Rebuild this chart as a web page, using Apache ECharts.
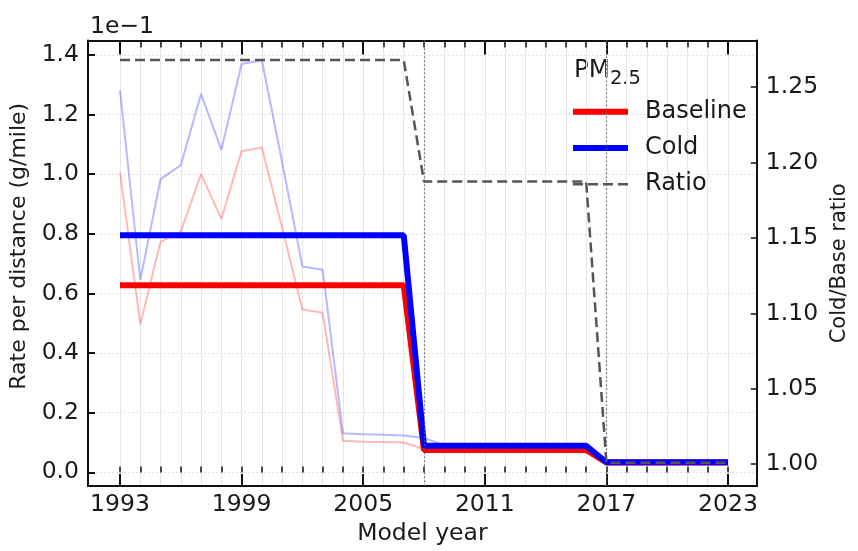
<!DOCTYPE html>
<html>
<head>
<meta charset="utf-8">
<script src="https://cdn.jsdelivr.net/npm/echarts@6/dist/echarts.min.js"></script>
<style>
html,body{margin:0;padding:0;background:#ffffff;}
#chart{width:858px;height:551px;}
</style>
</head>
<body>
<div id="chart"></div>
<script>
// ---------- data (g/mile; axis shows values x 1e-1) ----------
const years = [1993,1994,1995,1996,1997,1998,1999,2000,2001,2002,2003,2004,2005,2006,2007,
               2008,2009,2010,2011,2012,2013,2014,2015,2016,
               2017,2018,2019,2020,2021,2022,2023];
const majorYears = [1993,1999,2005,2011,2017,2023];
const leftTicks = [0,0.02,0.04,0.06,0.08,0.10,0.12,0.14];
const rightTicks = [1.00,1.05,1.10,1.15,1.20,1.25];
const regulationYears = [2008,2017];

// yearly rates (faded thin lines)
const baselineYearly = [0.1006,0.0496,0.0773,0.0808,0.1000,0.0850,0.1077,0.1089,0.0820,0.0546,0.0535,0.0106,0.0103,0.0102,0.0100,
                        0.0078,0.0076,0.0075,0.0075,0.0074,0.0074,0.0073,0.0073,0.0072,
                        0.0034,0.0033,0.0033,0.0033,0.0032,0.0032,0.0032];
const coldYearly     = [0.1280,0.0645,0.0983,0.1030,0.1269,0.1081,0.1369,0.1382,0.1040,0.0690,0.0679,0.0131,0.0128,0.0126,0.0124,
                        0.0115,0.0092,0.0090,0.0090,0.0089,0.0089,0.0088,0.0088,0.0087,
                        0.0040,0.0039,0.0037,0.0035,0.0034,0.0034,0.0034];
// period rates (thick lines)
const baselinePeriod = [0.0627,0.0627,0.0627,0.0627,0.0627,0.0627,0.0627,0.0627,0.0627,0.0627,0.0627,0.0627,0.0627,0.0627,0.0627,
                        0.0075,0.0075,0.0075,0.0075,0.0075,0.0075,0.0075,0.0075,0.0075,
                        0.0033,0.0033,0.0033,0.0033,0.0033,0.0033,0.0033];
const coldPeriod     = [0.0795,0.0795,0.0795,0.0795,0.0795,0.0795,0.0795,0.0795,0.0795,0.0795,0.0795,0.0795,0.0795,0.0795,0.0795,
                        0.0089,0.0089,0.0089,0.0089,0.0089,0.0089,0.0089,0.0089,0.0089,
                        0.0034,0.0034,0.0034,0.0034,0.0034,0.0034,0.0034];
// cold / baseline ratio
const ratio          = [1.268,1.268,1.268,1.268,1.268,1.268,1.268,1.268,1.268,1.268,1.268,1.268,1.268,1.268,1.268,
                        1.1875,1.1875,1.1875,1.1875,1.1875,1.1875,1.1875,1.1875,1.1875,
                        1.001,1.001,1.001,1.001,1.001,1.001,1.001];

// ---------- chart ----------
const FONT = 'DejaVu Sans';
const TXT = '#1a1a1a';
const pairs = arr => years.map((y, i) => [y, arr[i]]);

const chart = echarts.init(document.getElementById('chart'), null, {renderer: 'canvas'});

const xBase = {
  type: 'value', min: 1991.42, max: 2024.42,
  axisLine: {show: false}, axisLabel: {show: false},
  axisTick: {show: false}, splitLine: {show: false}
};

const option = {
  backgroundColor: '#ffffff',
  animation: false,
  grid: {left: 88, right: 92, top: 40.5, bottom: 62, containLabel: false},
  xAxis: [
    Object.assign({}, xBase, {
      position: 'bottom',
      name: 'Model year', nameLocation: 'middle', nameGap: 35,
      nameTextStyle: {fontFamily: FONT, fontSize: 23.5, color: TXT},
      axisLine: {show: true, onZero: false, lineStyle: {color: '#111', width: 2}},
      axisTick: {show: true, inside: true, length: 12, customValues: majorYears, lineStyle: {color: '#111', width: 2}},
      axisLabel: {show: true, customValues: majorYears, margin: 7, fontFamily: FONT, fontSize: 23.5, color: TXT,
                  formatter: v => String(v)}
    }),
    Object.assign({}, xBase, {
      position: 'bottom',
      axisTick: {show: true, inside: true, length: 6, customValues: years, lineStyle: {color: '#111', width: 1.5}},
      splitLine: {show: true, lineStyle: {color: '#e6e6e6', width: 1}}
    }),
    Object.assign({}, xBase, {
      position: 'top',
      axisLine: {show: true, onZero: false, lineStyle: {color: '#111', width: 2}},
      axisTick: {show: true, inside: true, length: 14, customValues: majorYears, lineStyle: {color: '#111', width: 2}}
    }),
    Object.assign({}, xBase, {
      position: 'top',
      axisTick: {show: true, inside: true, length: 7, customValues: years, lineStyle: {color: '#111', width: 1.5}}
    })
  ],
  yAxis: [
    {
      type: 'value', position: 'left', min: -0.0046, max: 0.1448,
      name: 'Rate per distance (g/mile)', nameLocation: 'middle', nameGap: 52,
      nameTextStyle: {fontFamily: FONT, fontSize: 22, color: TXT, padding: [0, 0, 0, 34]},
      axisLine: {show: true, onZero: false, lineStyle: {color: '#111', width: 2}},
      axisTick: {show: true, inside: true, length: 7, customValues: leftTicks, lineStyle: {color: '#111', width: 2}},
      axisLabel: {show: true, customValues: leftTicks, margin: 9, fontFamily: FONT, fontSize: 23.5, color: TXT,
                  formatter: v => (v * 10).toFixed(1)},
      splitLine: {show: true, lineStyle: {color: '#e2e2e2', width: 1, type: [2, 2]}}
    },
    {
      type: 'value', position: 'right', min: 0.9855, max: 1.281,
      name: 'Cold/Base ratio', nameLocation: 'middle', nameGap: 66, nameRotate: 90,
      nameTextStyle: {fontFamily: FONT, fontSize: 21, color: TXT},
      axisLine: {show: true, onZero: false, lineStyle: {color: '#111', width: 2}},
      axisTick: {show: true, inside: true, length: 6, customValues: rightTicks, lineStyle: {color: '#111', width: 1.5}},
      axisLabel: {show: true, customValues: rightTicks, margin: 9, fontFamily: FONT, fontSize: 23.5, color: TXT,
                  formatter: v => v.toFixed(2)},
      splitLine: {show: false}
    }
  ],
  legend: {
    orient: 'vertical', left: 570, top: 99.8, padding: 0,
    itemWidth: 55, itemHeight: 1, itemGap: 12.2,
    selectedMode: false,
    textStyle: {fontFamily: FONT, fontSize: 24, color: TXT, padding: [0, 0, 0, 12]},
    data: [
      {name: 'Baseline', lineStyle: {width: 6}},
      {name: 'Cold', lineStyle: {width: 6}},
      {name: 'Ratio', lineStyle: {width: 2.5}}
    ]
  },
  graphic: [
    {type: 'text', left: 90, top: 15,
     style: {text: '1e\u22121', font: '23.5px "DejaVu Sans"', fill: TXT}},
    {type: 'text', left: 574, top: 58.6,
     style: {text: '{a|PM}{b|2.5}', fill: TXT,
       rich: {
         a: {fontFamily: FONT, fontSize: 24.5, lineHeight: 30, verticalAlign: 'top', color: TXT},
         b: {fontFamily: FONT, fontSize: 19.5, lineHeight: 18, verticalAlign: 'bottom', color: TXT}
       }}}
  ],
  series: [
    {name: 'Baseline (yearly)', type: 'line', xAxisIndex: 0, yAxisIndex: 0, data: pairs(baselineYearly),
     showSymbol: false, symbol: 'none', z: 2, silent: true,
     lineStyle: {color: 'rgba(255,0,0,0.28)', width: 2}},
    {name: 'Cold (yearly)', type: 'line', xAxisIndex: 0, yAxisIndex: 0, data: pairs(coldYearly),
     showSymbol: false, symbol: 'none', z: 2, silent: true,
     lineStyle: {color: 'rgba(0,0,255,0.28)', width: 2}},
    {name: 'Baseline', type: 'line', xAxisIndex: 0, yAxisIndex: 0, data: pairs(baselinePeriod),
     showSymbol: false, symbol: 'none', z: 3, color: '#ff0000',
     lineStyle: {color: '#ff0000', width: 6}},
    {name: 'Cold', type: 'line', xAxisIndex: 0, yAxisIndex: 0, data: pairs(coldPeriod),
     showSymbol: false, symbol: 'none', z: 4, color: '#0000ff',
     lineStyle: {color: '#0000ff', width: 6}},
    {name: 'Ratio', type: 'line', xAxisIndex: 0, yAxisIndex: 1, data: pairs(ratio),
     showSymbol: false, symbol: 'none', z: 5, color: '#555555',
     lineStyle: {color: '#555555', width: 2.5, type: [10, 5]},
     markLine: {
       silent: true, symbol: 'none', label: {show: false},
       lineStyle: {color: '#666666', width: 1.2, type: [1.5, 2.5]},
       data: regulationYears.map(y => ({xAxis: y}))
     }}
  ]
};

chart.setOption(option);
</script>
</body>
</html>
